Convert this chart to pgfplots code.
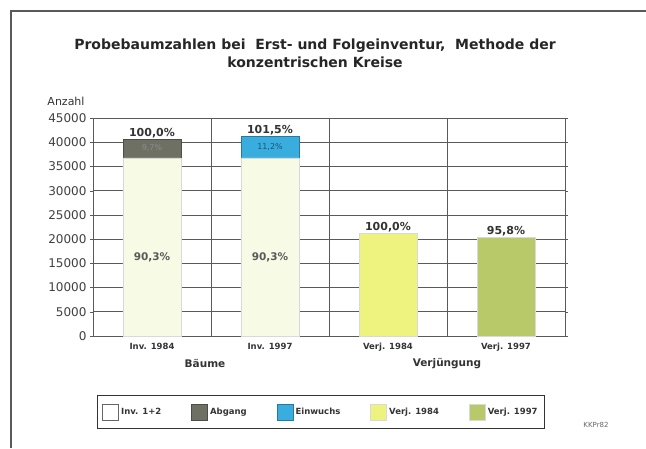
\documentclass[border=0pt]{standalone}
\usepackage{pgfplots}
\pgfplotsset{compat=1.18}
\usepackage{fontspec}
\setmainfont{DejaVu Sans}

\definecolor{invbase}{HTML}{F7FAE4}
\definecolor{abgang}{HTML}{6E7064}
\definecolor{einwuchs}{HTML}{3AADDF}
\definecolor{verjA}{HTML}{EEF27E}
\definecolor{verjB}{HTML}{B8C96A}
\definecolor{gridc}{HTML}{5A5A5A}

\begin{document}
\begin{tikzpicture}
\path[use as bounding box] (0,0) rectangle (646pt,448pt);
% Rahmen (links und oben)
\draw[black!65, line width=1.3pt] (11pt,0) -- (11pt,437pt) -- (646pt,437pt);

\begin{axis}[
  at={(93pt,112pt)}, anchor=south west,
  scale only axis,
  width=472pt, height=218pt,
  ybar, bar width=58pt, bar shift=0pt,
  xmin=-0.5, xmax=3.5,
  ymin=0, ymax=45000,
  ytick={0,5000,...,45000},
  scaled y ticks=false,
  xtick={0,1,2,3},
  xticklabels={Inv. 1984, Inv. 1997, Verj. 1984, Verj. 1997},
  minor xtick={0.5,1.5,2.5},
  xminorgrids=true, ymajorgrids=true,
  grid style={gridc, line width=0.6pt},
  minor grid style={gridc, line width=0.6pt},
  axis line style={gridc, line width=0.8pt},
  major x tick style={draw=none},
  minor x tick style={draw=none},
  ytick style={gridc},
  tick align=outside, major tick length=3pt,
  yticklabel style={font=\fontsize{12}{12}\selectfont, color=black!75,
    /pgf/number format/1000 sep={}, /pgf/number format/assume math mode=true},
  xticklabel style={font=\bfseries\fontsize{8.5}{9}\selectfont, color=black!80, yshift=-1pt},
  legend image code/.code={\draw[#1] (0pt,-8pt) rectangle (16pt,8pt);},
  legend columns=5,
  legend style={at={(0.483,-0.349)}, anchor=center, draw=black!80, line width=0.8pt,
    font=\bfseries\fontsize{8.5}{9}\selectfont, text=black!80,
    inner xsep=5pt, inner ysep=8pt,
    /tikz/every even column/.append style={column sep=28pt}},
]
% Abgang / Einwuchs als Gesamthoehe, Grundbestand darueber
\addplot[forget plot, fill=abgang, draw=black!70, line width=0.6pt] coordinates {(0,40700)};
\addplot[forget plot, fill=einwuchs, draw=einwuchs!70!black, line width=0.6pt] coordinates {(1,41310)};
\addplot[forget plot, fill=invbase, draw=black!15, line width=0.5pt] coordinates {(0,36750) (1,36750)};
\addplot[forget plot, fill=verjA, draw=black!15, line width=0.5pt] coordinates {(2,21300)};
\addplot[forget plot, fill=verjB, draw=black!15, line width=0.5pt] coordinates {(3,20400)};

\addlegendimage{fill=white, draw=black!60}
\addlegendentry{Inv. 1+2}
\addlegendimage{fill=abgang, draw=black!70}
\addlegendentry{Abgang}
\addlegendimage{fill=einwuchs, draw=einwuchs!70!black}
\addlegendentry{Einwuchs}
\addlegendimage{fill=verjA, draw=black!15}
\addlegendentry{Verj. 1984}
\addlegendimage{fill=verjB, draw=black!15}
\addlegendentry{Verj. 1997}

\node[anchor=south, inner sep=1pt, font=\bfseries\fontsize{11}{11}\selectfont, text=black!80] at (axis cs:0,40700) {100,0\%};
\node[anchor=south, inner sep=1pt, font=\bfseries\fontsize{11}{11}\selectfont, text=black!80] at (axis cs:1,41310) {101,5\%};
\node[anchor=south, inner sep=1pt, font=\bfseries\fontsize{11}{11}\selectfont, text=black!80] at (axis cs:2,21300) {100,0\%};
\node[anchor=south, inner sep=1pt, font=\bfseries\fontsize{11}{11}\selectfont, text=black!80] at (axis cs:3,20400) {95,8\%};
\node[font=\bfseries\fontsize{10.5}{11}\selectfont, text=black!65] at (axis cs:0,16300) {90,3\%};
\node[font=\bfseries\fontsize{10.5}{11}\selectfont, text=black!65] at (axis cs:1,16300) {90,3\%};
\node[font=\fontsize{8}{8}\selectfont, text=black!45] at (axis cs:0,38725) {9,7\%};
\node[font=\fontsize{8}{8}\selectfont, text=einwuchs!50!black] at (axis cs:1,39030) {11,2\%};
\end{axis}

% Titel und Beschriftungen
\node[align=center, font=\bfseries\fontsize{14}{18}\selectfont, text=black!85] at (315pt,395pt)
  {Probebaumzahlen bei\ \ Erst- und Folgeinventur,\ \ Methode der\\konzentrischen Kreise};
\node[font=\fontsize{11}{11}\selectfont, text=black!80] at (66pt,347pt) {Anzahl};
\node[font=\bfseries\fontsize{10.5}{11}\selectfont, text=black!80] at (205pt,84pt) {Bäume};
\node[font=\bfseries\fontsize{10.5}{11}\selectfont, text=black!80] at (447pt,84pt) {Verjüngung};
\node[font=\fontsize{7}{7}\selectfont, text=black!60] at (596pt,23pt) {KKPr82};
\end{tikzpicture}
\end{document}
